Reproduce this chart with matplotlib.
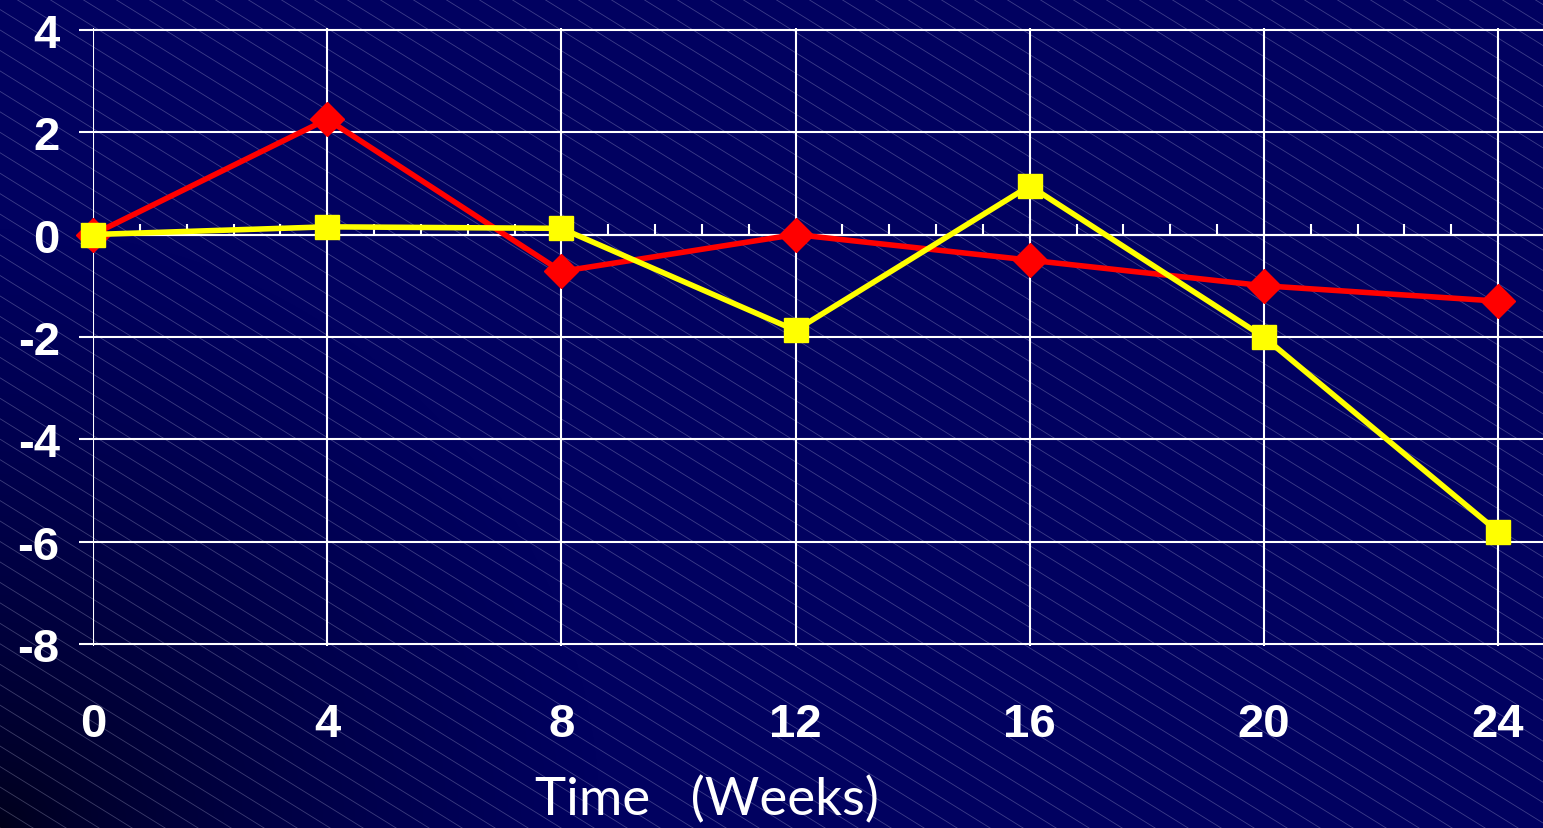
import numpy as np
import matplotlib
matplotlib.use('Agg')
import matplotlib.pyplot as plt
from matplotlib.ticker import MultipleLocator

# data
weeks = [0, 4, 8, 12, 16, 20, 24]
red_vals = [0.0, 2.25, -0.72, 0.0, -0.5, -1.0, -1.3]
yellow_vals = [0.0, 0.15, 0.12, -1.87, 0.95, -2.0, -5.8]
x_ticks = [0, 4, 8, 12, 16, 20, 24]
y_ticks = [-8, -6, -4, -2, 0, 2, 4]

W, H, DPI = 1543, 829, 100
NAVY = np.array([0x01, 0x01, 0x60]) / 255.
DARK = np.array([0x00, 0x00, 0x16]) / 255.

fig = plt.figure(figsize=(W / DPI, H / DPI), dpi=DPI)

# background: navy with a dark bottom-left corner and thin diagonal lines
bg = fig.add_axes([0, 0, 1, 1], zorder=-10)
yy, xx = np.mgrid[0:H, 0:W]
d = np.sqrt(xx ** 2 + (H - yy) ** 2)
t = np.clip(d / 600., 0, 1) ** 0.6
img = DARK[None, None, :] + (NAVY - DARK)[None, None, :] * t[:, :, None]
bg.imshow(img, extent=[0, W, 0, H], origin='upper', aspect='auto')
slope = 0.62
for x0 in np.arange(-2 * W, W + 40, 33):
    bg.plot([x0, x0 + 2 * W], [H, H - 2 * W * slope], color='#c8c8e8',
            alpha=0.3, lw=0.6)
bg.set_xlim(0, W)
bg.set_ylim(0, H)
bg.axis('off')

# main plot
left, bottom = 93 / W, (H - 647) / H
width, height = 1 - 93 / W, 618 / H
xmax = (W - 93) / ((1498 - 93) / 24.)
ax = fig.add_axes([left, bottom, width, height])
ax.patch.set_alpha(0)
ax.set_xlim(0, xmax)
ax.set_ylim(-8.03, 4.03)

ax.grid(True, color='white', lw=1.5)
ax.set_axisbelow(True)
for s in ax.spines.values():
    s.set_visible(False)

ax.set_xticks(x_ticks)
ax.set_yticks(y_ticks)
font = dict(family='Liberation Sans', weight='bold', size=34)
ax.set_xticklabels([str(v) for v in x_ticks], **font)
ax.set_yticklabels([str(v) for v in y_ticks], **font)
ax.tick_params(axis='x', which='both', length=0, pad=40, colors='white')
ax.tick_params(axis='y', length=10, width=1.5, direction='out', pad=14,
               colors='white')

# tick marks along the zero line (thin axes sitting on y = 0)
zero_frac = 8.03 / 12.06
zax = fig.add_axes([left, bottom + height * zero_frac, width, 1e-6])
zax.patch.set_alpha(0)
zax.set_xlim(0, xmax)
zax.set_yticks([])
zax.set_xticks(x_ticks)
zax.xaxis.set_minor_locator(MultipleLocator(0.8))
zax.tick_params(which='both', direction='in', length=8, width=1.5,
                colors='white', labelbottom=False, top=False)
for name, s in zax.spines.items():
    s.set_visible(name == 'bottom')
    s.set_color('white')
    s.set_linewidth(1.5)

ax.plot(weeks, red_vals, color='#ff0000', lw=4, marker='D', ms=17,
        zorder=4, clip_on=False)
ax.plot(weeks, yellow_vals, color='#ffff00', lw=4, marker='s', ms=17,
        zorder=5, clip_on=False)
ax.set_zorder(zax.get_zorder() + 1)

fig.text(707 / W, 1 - 800 / H, 'Time   (Weeks)', color='white',
         family='Lato', size=38, ha='center', va='center')

plt.savefig('out.png', dpi=DPI)
